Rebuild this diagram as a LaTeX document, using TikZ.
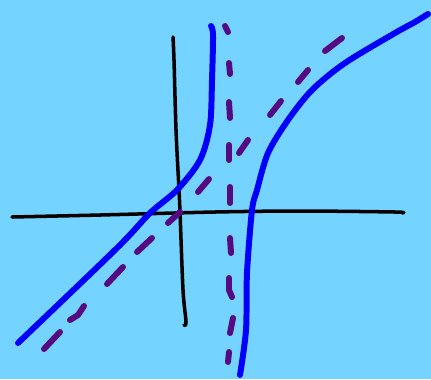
\documentclass[tikz,border=0pt]{standalone}
\usepackage{tikz}

\definecolor{skyback}{RGB}{117,211,255}
\definecolor{sketchblue}{RGB}{0,0,250}
\definecolor{sketchpurple}{RGB}{85,10,130}

\begin{document}
\begin{tikzpicture}[x=0.02cm,y=-0.02cm,line cap=round,line join=round,
  axisline/.style={draw=black,line width=2pt},
  curveline/.style={draw=sketchblue,line width=3.4pt},
  dashline/.style={draw=sketchpurple,line width=3.4pt}]
\fill[skyback] (0,0) rectangle (431,379);
\useasboundingbox (0,0) rectangle (431,379);
% axes
\draw[axisline] plot[smooth] coordinates {(12,217) (100,215) (215,212) (300,211) (395,212) (402,213)};
\draw[axisline] plot[smooth] coordinates {(173,37) (174,60) (176,130) (179,190) (180,212) (183,290) (186,322) (184,325)};
% asymptotes
\draw[dashline] (225,26)--(228,32);
\draw[dashline] (229,63)--(230,74);
\draw[dashline] (229,102)--(230,118);
\draw[dashline] (229,145)--(229,160);
\draw[dashline] (230,187)--(230,203);
\draw[dashline] (230,238)--(231,253);
\draw[dashline] (229,278)--(229,290)--(232,297);
\draw[dashline] (233,318)--(230,333);
\draw[dashline] (229,352)--(228,362);
\draw[dashline] (44,349)--(60,332);
\draw[dashline] (70,320)--(78,315)--(84,306);
\draw[dashline] (107,284)--(123,267);
\draw[dashline] (137,252)--(152,238);
\draw[dashline] (168,223)--(180,212);
\draw[dashline] (198,192)--(209,179);
\draw[dashline] (239,153)--(248,140);
\draw[dashline] (270,115)--(281,101);
\draw[dashline] (298,82)--(308,70);
\draw[dashline] (325,51)--(342,38);
% curve
\draw[curveline] plot[smooth] coordinates {(18,343) (117,248) (150,213) (177,190) (200,160) (210,125) (212,80) (213,35) (211,26)};
\draw[curveline] plot[smooth] coordinates {(240,375) (246,330) (247,273) (252,210) (257,190) (268,153) (288,120) (312,90) (345,63) (395,33) (415,22) (428,14)};
\end{tikzpicture}
\end{document}
